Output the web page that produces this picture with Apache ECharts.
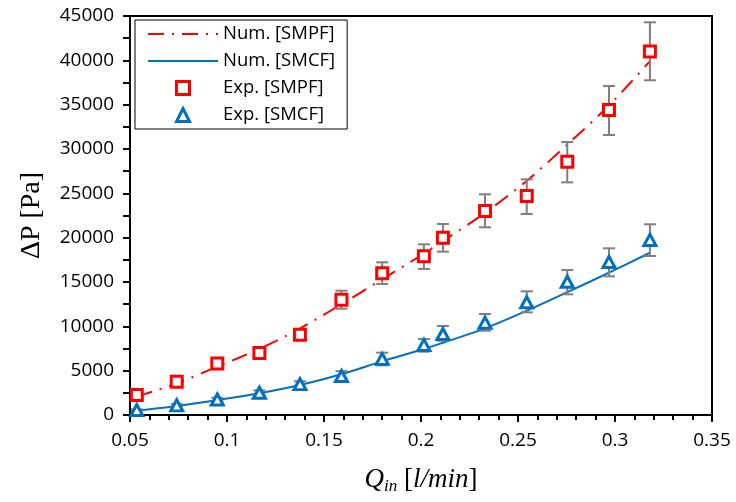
<!DOCTYPE html>
<html>
<head>
<meta charset="utf-8">
<script src="https://cdn.jsdelivr.net/npm/echarts@6/dist/echarts.min.js"></script>
<style>
  html, body { margin: 0; padding: 0; background: #fff; }
  #chart { width: 736px; height: 502px; }
</style>
</head>
<body>
<div id="chart"></div>
<script>
  // flow rate Q_in [l/min]
  var flowRate = [0.0535, 0.0741, 0.095, 0.1167, 0.1376, 0.159, 0.18, 0.2015, 0.2113, 0.233, 0.2545, 0.2754, 0.2969, 0.318];

  // numerical curves, dP [Pa]
  var numSMPF = [2070, 3570, 5450, 7450, 9750, 12500, 15300, 18200, 19600, 22800, 26400, 30500, 34900, 39900];
  var numSMCF = [490, 1015, 1690, 2450, 3380, 4600, 6050, 7440, 8150, 9775, 11760, 13850, 16050, 18300];

  // experiments, dP [Pa] with error bars
  var expSMPF = [2250, 3750, 5800, 7000, 9050, 13000, 16000, 17900, 20000, 23000, 24700, 28550, 34400, 41000];
  var lowSMPF = [2100, 3500, 5450, 6600, 8500, 11990, 14770, 16470, 18420, 21170, 22670, 26240, 31580, 37750];
  var highSMPF = [2400, 4000, 6150, 7400, 9600, 14020, 17220, 19250, 21540, 24890, 26580, 30790, 37100, 44290];

  var expSMCF = [560, 1090, 1750, 2510, 3480, 4400, 6330, 7900, 9130, 10410, 12710, 15030, 17260, 19740];
  var lowSMCF = [480, 950, 1550, 2250, 3150, 3900, 5600, 7140, 8380, 9510, 11580, 13610, 15640, 17930];
  var highSMCF = [640, 1230, 1950, 2770, 3800, 4950, 7030, 8570, 10040, 11390, 13950, 16350, 18800, 21510];

  var RED = '#FF0000';
  var BLUE = '#0070C0';
  var GREY = '#808080';

  function pairs(xs, ys) {
    return xs.map(function (x, i) { return [x, ys[i]]; });
  }
  function bars(xs, lo, hi) {
    return xs.map(function (x, i) { return [x, lo[i], hi[i]]; });
  }

  function renderErrorBar(params, api) {
    var top = api.coord([api.value(0), api.value(2)]);
    var bottom = api.coord([api.value(0), api.value(1)]);
    var half = 6;
    var style = { stroke: GREY, lineWidth: 2, fill: null };
    return {
      type: 'group',
      children: [
        { type: 'line', shape: { x1: top[0], y1: top[1], x2: bottom[0], y2: bottom[1] }, style: style },
        { type: 'line', shape: { x1: top[0] - half, y1: top[1], x2: top[0] + half, y2: top[1] }, style: style },
        { type: 'line', shape: { x1: bottom[0] - half, y1: bottom[1], x2: bottom[0] + half, y2: bottom[1] }, style: style }
      ]
    };
  }

  var chart = echarts.init(document.getElementById('chart'));
  chart.setOption({
    animation: false,
    backgroundColor: '#fff',
    textStyle: { fontFamily: 'Open Sans', color: '#000' },
    grid: {
      left: 130, right: 24, top: 16, bottom: 87,
      show: true, borderColor: '#000', borderWidth: 2
    },
    legend: {
      left: 135, top: 20,
      orient: 'vertical',
      padding: [4, 12, 4, 12],
      itemGap: 7,
      itemWidth: 70,
      itemHeight: 13,
      borderColor: '#000',
      borderWidth: 1,
      textStyle: { fontFamily: 'Open Sans', fontSize: 18.5, color: '#000', lineHeight: 20 },
      data: [
        { name: 'Num. [SMPF]', itemStyle: { opacity: 0 } },
        { name: 'Num. [SMCF]', itemStyle: { opacity: 0 } },
        {
          name: 'Exp. [SMPF]', icon: 'path://M0,0H10V10H0Z',
          itemStyle: { color: '#fff', borderColor: RED, borderWidth: 3 }
        },
        {
          name: 'Exp. [SMCF]', icon: 'path://M5,0L10,10H0Z',
          itemStyle: { color: '#fff', borderColor: BLUE, borderWidth: 3 }
        }
      ]
    },
    xAxis: {
      type: 'value',
      min: 0.05, max: 0.35, interval: 0.05,
      name: '{q|Q}{sub|in}{n| [}{q|l/min}{n|]}',
      nameLocation: 'middle',
      nameGap: 50,
      nameTextStyle: {
        rich: {
          q: { fontFamily: 'Liberation Serif', fontStyle: 'italic', fontSize: 27, color: '#000' },
          sub: { fontFamily: 'Liberation Serif', fontStyle: 'italic', fontSize: 17, color: '#000', padding: [13, 0, 0, 0] },
          n: { fontFamily: 'Liberation Serif', fontSize: 27, color: '#000' }
        }
      },
      axisLine: { lineStyle: { color: '#000', width: 2 } },
      axisTick: { inside: false, length: 7, lineStyle: { color: '#000', width: 2 } },
      minorTick: { show: true, splitNumber: 5, length: 5, lineStyle: { color: '#000', width: 2 } },
      axisLabel: { fontSize: 19, color: '#000', margin: 16 },
      splitLine: { show: false }
    },
    yAxis: {
      type: 'value',
      min: 0, max: 45000, interval: 5000,
      name: 'ΔP [Pa]',
      nameLocation: 'middle',
      nameGap: 84,
      nameTextStyle: { fontFamily: 'Liberation Serif', fontSize: 28, color: '#000' },
      axisLine: { show: true, lineStyle: { color: '#000', width: 2 } },
      axisTick: { show: true, inside: false, length: 7, lineStyle: { color: '#000', width: 2 } },
      minorTick: { show: true, splitNumber: 2, length: 7, lineStyle: { color: '#000', width: 2 } },
      axisLabel: {
        fontSize: 19, color: '#000', margin: 16,
        formatter: function (v) { return String(v); }
      },
      splitLine: { show: false }
    },
    series: [
      {
        name: 'Num. [SMPF]',
        type: 'line',
        data: pairs(flowRate, numSMPF),
        smooth: 0.3,
        symbol: 'none',
        lineStyle: { color: RED, width: 2, type: [16, 8, 2, 8] },
        itemStyle: { color: RED },
        z: 2
      },
      {
        name: 'Num. [SMCF]',
        type: 'line',
        data: pairs(flowRate, numSMCF),
        smooth: 0.3,
        symbol: 'none',
        lineStyle: { color: BLUE, width: 2 },
        itemStyle: { color: BLUE },
        z: 2
      },
      {
        name: 'errSMPF',
        type: 'custom',
        renderItem: renderErrorBar,
        data: bars(flowRate, lowSMPF, highSMPF),
        encode: { x: 0, y: [1, 2] },
        z: 3
      },
      {
        name: 'errSMCF',
        type: 'custom',
        renderItem: renderErrorBar,
        data: bars(flowRate, lowSMCF, highSMCF),
        encode: { x: 0, y: [1, 2] },
        z: 3
      },
      {
        name: 'Exp. [SMPF]',
        type: 'scatter',
        data: pairs(flowRate, expSMPF),
        symbol: 'rect',
        symbolSize: 11,
        itemStyle: { color: '#fff', borderColor: RED, borderWidth: 3, opacity: 1 },
        z: 4
      },
      {
        name: 'Exp. [SMCF]',
        type: 'scatter',
        data: pairs(flowRate, expSMCF),
        symbol: 'triangle',
        symbolSize: [12, 11],
        itemStyle: { color: '#fff', borderColor: BLUE, borderWidth: 3, opacity: 1 },
        z: 4
      }
    ]
  });
</script>
</body>
</html>
